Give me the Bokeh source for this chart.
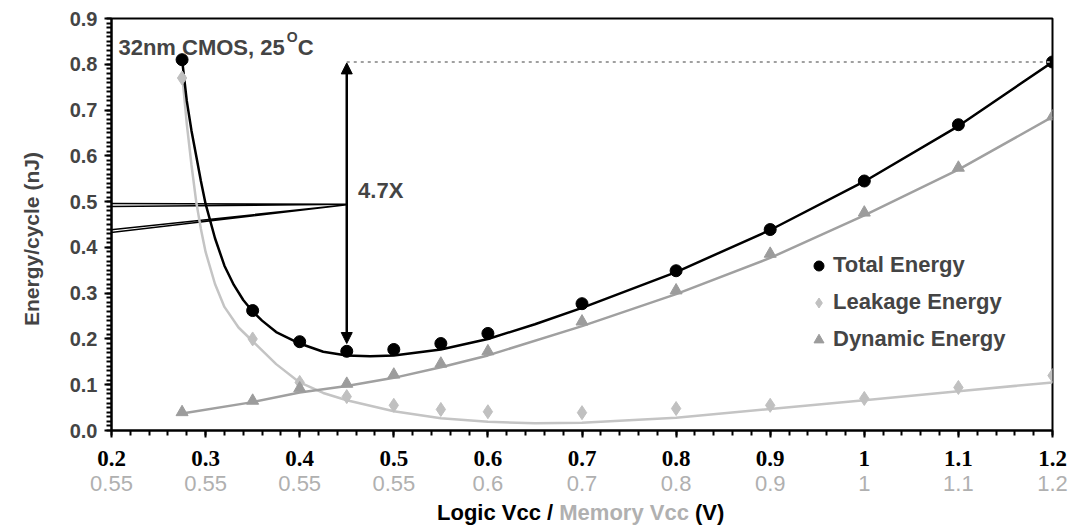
import numpy as np
from bokeh.plotting import figure
from bokeh.layouts import column
from bokeh.models import (Range1d, LinearAxis, FixedTicker, Label, Arrow, NormalHead,
                          Legend, LegendItem, NumeralTickFormatter, Div)
from bokeh.embed import file_html
from bokeh.resources import INLINE

# ---------------- data ----------------
logic_vcc = [0.275, 0.35, 0.4, 0.45, 0.5, 0.55, 0.6, 0.7, 0.8, 0.9, 1.0, 1.1, 1.2]
total_energy = [0.81, 0.262, 0.194, 0.173, 0.177, 0.19, 0.212, 0.277, 0.349, 0.439, 0.545, 0.668, 0.805]
leakage_energy = [0.77, 0.2, 0.105, 0.074, 0.055, 0.046, 0.041, 0.039, 0.048, 0.055, 0.07, 0.094, 0.12]
dynamic_energy = [0.04, 0.065, 0.092, 0.102, 0.122, 0.146, 0.173, 0.238, 0.306, 0.386, 0.476, 0.574, 0.686]

# trend lines
total_fit_x = [0.275, 0.28, 0.285, 0.29, 0.295, 0.30, 0.31, 0.32, 0.33, 0.34, 0.35, 0.36, 0.375, 0.4,
               0.425, 0.45, 0.475, 0.5, 0.55, 0.6, 0.65, 0.7, 0.8, 0.9, 1.0, 1.1, 1.2]
total_fit_y = [0.81, 0.72, 0.655, 0.60, 0.545, 0.495, 0.42, 0.36, 0.318, 0.285, 0.26, 0.24, 0.215, 0.19,
               0.172, 0.164, 0.162, 0.164, 0.177, 0.2, 0.232, 0.268, 0.346, 0.438, 0.544, 0.665, 0.805]
leak_fit_x = [0.275, 0.28, 0.285, 0.29, 0.295, 0.30, 0.31, 0.32, 0.335, 0.35, 0.375, 0.4, 0.425, 0.45,
              0.5, 0.55, 0.6, 0.65, 0.7, 0.8, 0.9, 1.0, 1.1, 1.2]
leak_fit_y = [0.78, 0.67, 0.58, 0.50, 0.44, 0.39, 0.32, 0.27, 0.225, 0.195, 0.145, 0.105, 0.082, 0.066,
              0.042, 0.027, 0.019, 0.016, 0.017, 0.028, 0.047, 0.066, 0.086, 0.105]
dyn_fit_x = [0.275, 0.35, 0.4, 0.45, 0.5, 0.55, 0.6, 0.7, 0.8, 0.9, 1.0, 1.1, 1.2]
dyn_fit_y = [0.037, 0.062, 0.083, 0.097, 0.115, 0.138, 0.164, 0.228, 0.298, 0.377, 0.47, 0.57, 0.685]

# tick labels
x_ticks = [0.2, 0.3, 0.4, 0.5, 0.6, 0.7, 0.8, 0.9, 1.0, 1.1, 1.2]
logic_labels = ["0.2", "0.3", "0.4", "0.5", "0.6", "0.7", "0.8", "0.9", "1", "1.1", "1.2"]
memory_labels = ["0.55", "0.55", "0.55", "0.55", "0.6", "0.7", "0.8", "0.9", "1", "1.1", "1.2"]
y_ticks = [0.0, 0.1, 0.2, 0.3, 0.4, 0.5, 0.6, 0.7, 0.8, 0.9]

# annotation positions (data units)
arrow_x = 0.45
arrow_y = [0.19, 0.803]
ref_line_x = [0.45, 1.2]
ref_line_y = [0.805, 0.805]
callout_xs = [[0.082, 0.45, 0.082], [0.082, 0.45, 0.082]]
callout_ys = [[0.4965, 0.494, 0.487], [0.413, 0.493, 0.404]]

SANS = "Liberation Sans"
SERIF = "Liberation Serif"

p = figure(width=1077, height=500, output_backend="svg", toolbar_location=None,
           x_range=Range1d(0.2, 1.2), y_range=Range1d(0.0, 0.9))
p.min_border_left = 111
p.min_border_right = 25
p.min_border_top = 18
p.min_border_bottom = 70
p.grid.visible = False
p.outline_line_color = "black"
p.outline_line_width = 2

minor_x = [round(0.2 + 0.02 * i, 4) for i in range(51)]
minor_y = [round(0.01 * i, 4) for i in range(91)]

# bottom axis 1: logic Vcc
xa = p.xaxis[0]
xa.ticker = FixedTicker(ticks=x_ticks, minor_ticks=minor_x)
xa.major_label_overrides = {t: l for t, l in zip(x_ticks, logic_labels)}
xa.axis_line_width = 2
xa.major_tick_in = 0
xa.major_tick_out = 7
xa.minor_tick_in = 0
xa.minor_tick_out = 5
xa.major_tick_line_color = "black"
xa.minor_tick_line_color = "black"
xa.major_tick_line_width = 2
xa.minor_tick_line_width = 2
xa.major_label_text_font = SERIF
xa.major_label_text_font_style = "bold"
xa.major_label_text_font_size = "23px"
xa.major_label_text_color = "black"
xa.major_label_standoff = 13

# bottom axis 2: memory Vcc
xb = LinearAxis(ticker=FixedTicker(ticks=x_ticks, minor_ticks=[]),
                major_label_overrides={t: l for t, l in zip(x_ticks, memory_labels)})
xb.axis_line_color = None
xb.major_tick_line_color = None
xb.minor_tick_line_color = None
xb.major_tick_in = 0
xb.major_tick_out = 0
xb.major_label_text_font = SANS
xb.major_label_text_font_size = "22px"
xb.major_label_text_color = "#b0b0b0"
xb.major_label_standoff = 7
p.add_layout(xb, "below")

ya = p.yaxis[0]
ya.ticker = FixedTicker(ticks=y_ticks, minor_ticks=minor_y)
ya.formatter = NumeralTickFormatter(format="0.0")
ya.axis_line_width = 2
ya.major_tick_in = 0
ya.major_tick_out = 7
ya.minor_tick_in = 0
ya.minor_tick_out = 5
ya.major_tick_line_color = "black"
ya.minor_tick_line_color = "black"
ya.major_tick_line_width = 2
ya.minor_tick_line_width = 2
ya.major_label_text_font = SANS
ya.major_label_text_font_style = "bold"
ya.major_label_text_font_size = "20px"
ya.major_label_standoff = 7
ya.axis_label = "Energy/cycle (nJ)" + "\u00a0" * 5
ya.axis_label_text_font = SANS
ya.axis_label_text_font_style = "bold"
ya.axis_label_text_font_size = "21px"
ya.axis_label_standoff = 24

# callout pointer (thin outlined wedges)
p.patches(callout_xs, callout_ys, fill_color=None, line_color="black", line_width=1.5)

# trend lines
p.line(leak_fit_x, leak_fit_y, line_color="#c4c4c4", line_width=2.5)
p.line(dyn_fit_x, dyn_fit_y, line_color="#a0a0a0", line_width=2.5)
p.line(total_fit_x, total_fit_y, line_color="black", line_width=2.5)

# markers
r_leak = p.scatter(logic_vcc, leakage_energy, marker="diamond", size=14,
                   fill_color="#c0c0c0", line_color="#c0c0c0")
r_dyn = p.scatter(logic_vcc, dynamic_energy, marker="triangle", size=12,
                  fill_color="#9c9c9c", line_color="#9c9c9c")
r_tot = p.scatter(logic_vcc, total_energy, marker="circle", size=12,
                  fill_color="black", line_color="black")

# dotted reference and double arrow
p.line(ref_line_x, ref_line_y, line_color="#a0a0a0", line_width=2, line_dash="3 4")
p.add_layout(Arrow(start=NormalHead(size=11, fill_color="black", line_color="black"),
                   end=NormalHead(size=11, fill_color="black", line_color="black"),
                   x_start=arrow_x, y_start=arrow_y[0], x_end=arrow_x, y_end=arrow_y[1],
                   line_width=2.5, line_color="black"))

# texts
p.add_layout(Label(x=0.462, y=0.525, text="4.7X", text_font=SANS, text_font_style="bold",
                   text_font_size="22px", text_baseline="middle", text_align="left"))
p.add_layout(Label(x=0.2074, y=0.837, text="32nm CMOS, 25", text_font=SANS,
                   text_font_style="bold", text_font_size="22px", text_baseline="alphabetic"))
p.add_layout(Label(x=0.3862, y=0.860, text="O", text_font=SANS,
                   text_font_style="bold", text_font_size="14px", text_baseline="alphabetic"))
p.add_layout(Label(x=0.3979, y=0.837, text="C", text_font=SANS,
                   text_font_style="bold", text_font_size="22px", text_baseline="alphabetic"))

legend = Legend(items=[LegendItem(label="Total Energy", renderers=[r_tot]),
                       LegendItem(label="Leakage Energy", renderers=[r_leak]),
                       LegendItem(label="Dynamic Energy", renderers=[r_dyn])],
                location=(695, 78))
legend.label_text_font = SANS
legend.label_text_font_style = "bold"
legend.label_text_font_size = "22px"
legend.glyph_width = 25
legend.glyph_height = 25
legend.label_height = 25
legend.label_standoff = 2
legend.spacing = 11
legend.padding = 0
legend.margin = 0
legend.border_line_alpha = 0
legend.background_fill_alpha = 0
p.add_layout(legend)

x_title = Div(text=('<div style="font-family:\'Liberation Sans\';font-weight:bold;font-size:22px;'
                    'line-height:26px;padding-left:437px;white-space:nowrap;color:black;">'
                    'Logic Vcc / <span style="color:#b0b0b0;">Memory Vcc</span> (V)</div>'),
              width=1077, height=26, margin=0)

layout = column(p, x_title, spacing=0, margin=0)
open("out.html", "w").write(file_html(layout, INLINE))
